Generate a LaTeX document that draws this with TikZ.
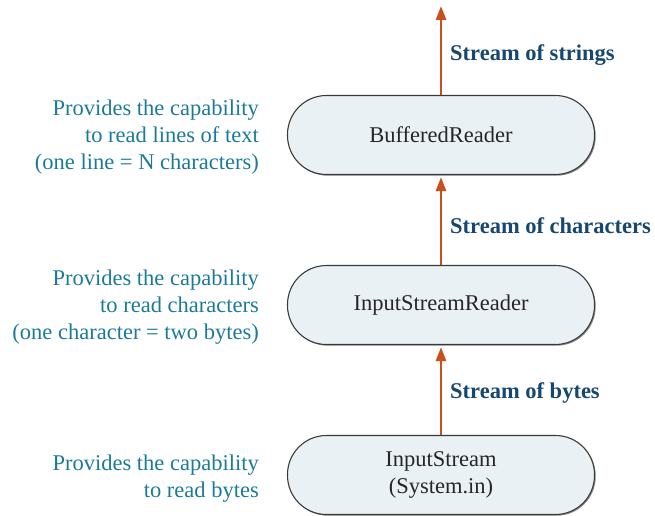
\documentclass[tikz,border=0pt]{standalone}
\usepackage{fontspec}
\setmainfont{Liberation Serif}
\usetikzlibrary{arrows.meta,shadows}
\definecolor{tealtxt}{HTML}{1B7A99}
\definecolor{navytxt}{HTML}{17476F}
\definecolor{arrowc}{HTML}{C9501C}
\definecolor{boxfill}{HTML}{EAF1F5}
\definecolor{boxline}{HTML}{3A3A3A}
\begin{document}
\begin{tikzpicture}[x=1pt,y=1pt,
  streambox/.style={draw=boxline, line width=1.1pt, fill=boxfill, rounded corners=39pt,
    minimum width=307pt, minimum height=79pt, inner sep=0pt, align=center,
    font=\fontsize{22.5}{27}\selectfont, text=black!85,
    drop shadow={shadow xshift=1.2pt, shadow yshift=-1.2pt, fill=black!45, opacity=1}},
  note/.style={anchor=east, align=right, inner sep=0pt, text=tealtxt,
    font=\fontsize{22.5}{27}\selectfont},
  flowlabel/.style={anchor=west, inner sep=0pt, text=navytxt,
    font=\fontsize{22.5}{27}\selectfont\bfseries},
  flow/.style={draw=arrowc, line width=2.8pt, -{Triangle[length=14pt,width=10pt]}}]
\useasboundingbox (0,0) rectangle (655,515);
\node[streambox] (br) at (441,380) {BufferedReader};
\node[streambox] (isr) at (441,210) {InputStreamReader};
\node[streambox] (is) at (441,40) {InputStream\\(System.in)};
\coordinate (top) at (441,509);
\draw[flow] (br.north) -- (top);
\draw[flow, shorten >=2pt] (isr.north) -- (br.south);
\draw[flow, shorten >=2pt] (is.north) -- (isr.south);
\node[flowlabel] (l1) at (450,460) {Stream of strings};
\node[flowlabel] (l2) at (450,289) {Stream of characters};
\node[flowlabel] (l3) at (450,122) {Stream of bytes};
\node[note] (n1) at (259,378) {Provides the capability\\to read lines of text\\(one line = N characters)};
\node[note] (n2) at (259,208) {Provides the capability\\to read characters\\(one character = two bytes)};
\node[note] (n3) at (259,36) {Provides the capability\\to read bytes};
\end{tikzpicture}
\end{document}
